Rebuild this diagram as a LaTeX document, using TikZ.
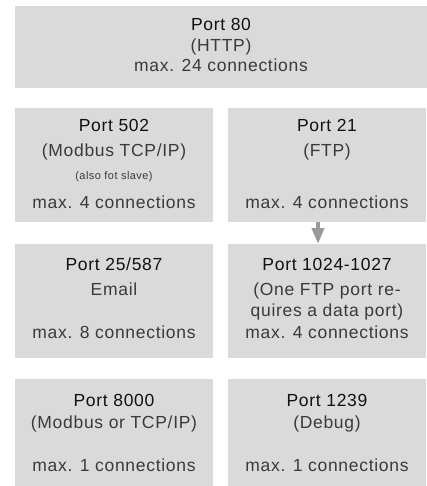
\documentclass[tikz,border=0pt]{standalone}
\usepackage{fontspec}
\setmainfont{Liberation Sans}[LetterSpace=4]
\usetikzlibrary{arrows.meta}
\definecolor{boxgray}{HTML}{DADADA}
\definecolor{arrowgray}{HTML}{999999}
\definecolor{titlecol}{HTML}{111111}
\definecolor{textcol}{HTML}{3A3A3A}
\tikzset{
  portbox/.style={fill=boxgray, draw=none, inner sep=0pt, outer sep=0pt},
  titletext/.style={anchor=base, inner sep=0pt, text=titlecol, font=\fontsize{17.5}{20}\selectfont},
  bodytext/.style={anchor=base, inner sep=0pt, text=textcol, font=\fontsize{17.5}{20}\selectfont},
  smalltext/.style={anchor=base, inner sep=0pt, text=textcol, font=\fontsize{11}{13}\selectfont},
  flowarrow/.style={draw=arrowgray, line width=4pt, -{Triangle[width=12pt,length=16pt]}, color=arrowgray}
}
\begin{document}
\begin{tikzpicture}[x=1pt,y=1pt]
\useasboundingbox (0,0) rectangle (427,-486);
% boxes
\node[portbox, minimum width=412pt, minimum height=82pt] (b80) at (221,-47) {};
\node[portbox, minimum width=198pt, minimum height=114pt] (b502) at (114,-165) {};
\node[portbox, minimum width=198pt, minimum height=114pt] (b21) at (327,-165) {};
\node[portbox, minimum width=198pt, minimum height=114pt] (b25) at (114,-301) {};
\node[portbox, minimum width=198pt, minimum height=114pt] (b1024) at (327,-301) {};
\node[portbox, minimum width=198pt, minimum height=107pt] (b8000) at (114,-432.5) {};
\node[portbox, minimum width=198pt, minimum height=107pt] (b1239) at (327,-432.5) {};
% top
\node[titletext] (t80a) at (221,-30.7) {Port 80};
\node[bodytext] (t80b) at (221,-51.7) {(HTTP)};
\node[bodytext] (t80c) at (221,-72) {max. 24 connections};
% row 2
\node[titletext] (t502a) at (114,-131.7) {Port 502};
\node[bodytext] (t502b) at (114,-156.7) {(Modbus TCP/IP)};
\node[smalltext] (t502c) at (114,-179) {(also fot slave)};
\node[bodytext] (t502d) at (114,-208) {max. 4 connections};
\node[titletext] (t21a) at (327,-131.7) {Port 21};
\node[bodytext] (t21b) at (327,-156.7) {(FTP)};
\node[bodytext] (t21c) at (327,-208) {max. 4 connections};
% row 3
\node[titletext] (t25a) at (114,-270) {Port 25/587};
\node[bodytext] (t25b) at (114,-295) {Email};
\node[bodytext] (t25c) at (114,-338) {max. 8 connections};
\node[titletext] (t1024a) at (327,-270) {Port 1024-1027};
\node[bodytext] (t1024b) at (327,-295) {(One FTP port re-};
\node[bodytext] (t1024c) at (327,-316.7) {quires a data port)};
\node[bodytext] (t1024d) at (327,-338) {max. 4 connections};
% row 4
\node[titletext] (t8000a) at (114,-406) {Port 8000};
\node[bodytext] (t8000b) at (114,-428) {(Modbus or TCP/IP)};
\node[bodytext] (t8000c) at (114,-471.7) {max. 1 connections};
\node[titletext] (t1239a) at (327,-406) {Port 1239};
\node[bodytext] (t1239b) at (327,-428) {(Debug)};
\node[bodytext] (t1239c) at (327,-471.7) {max. 1 connections};
% arrow
\draw[flowarrow] ([xshift=-9pt]b21.south) -- ([xshift=-9pt]b1024.north);
\end{tikzpicture}
\end{document}
